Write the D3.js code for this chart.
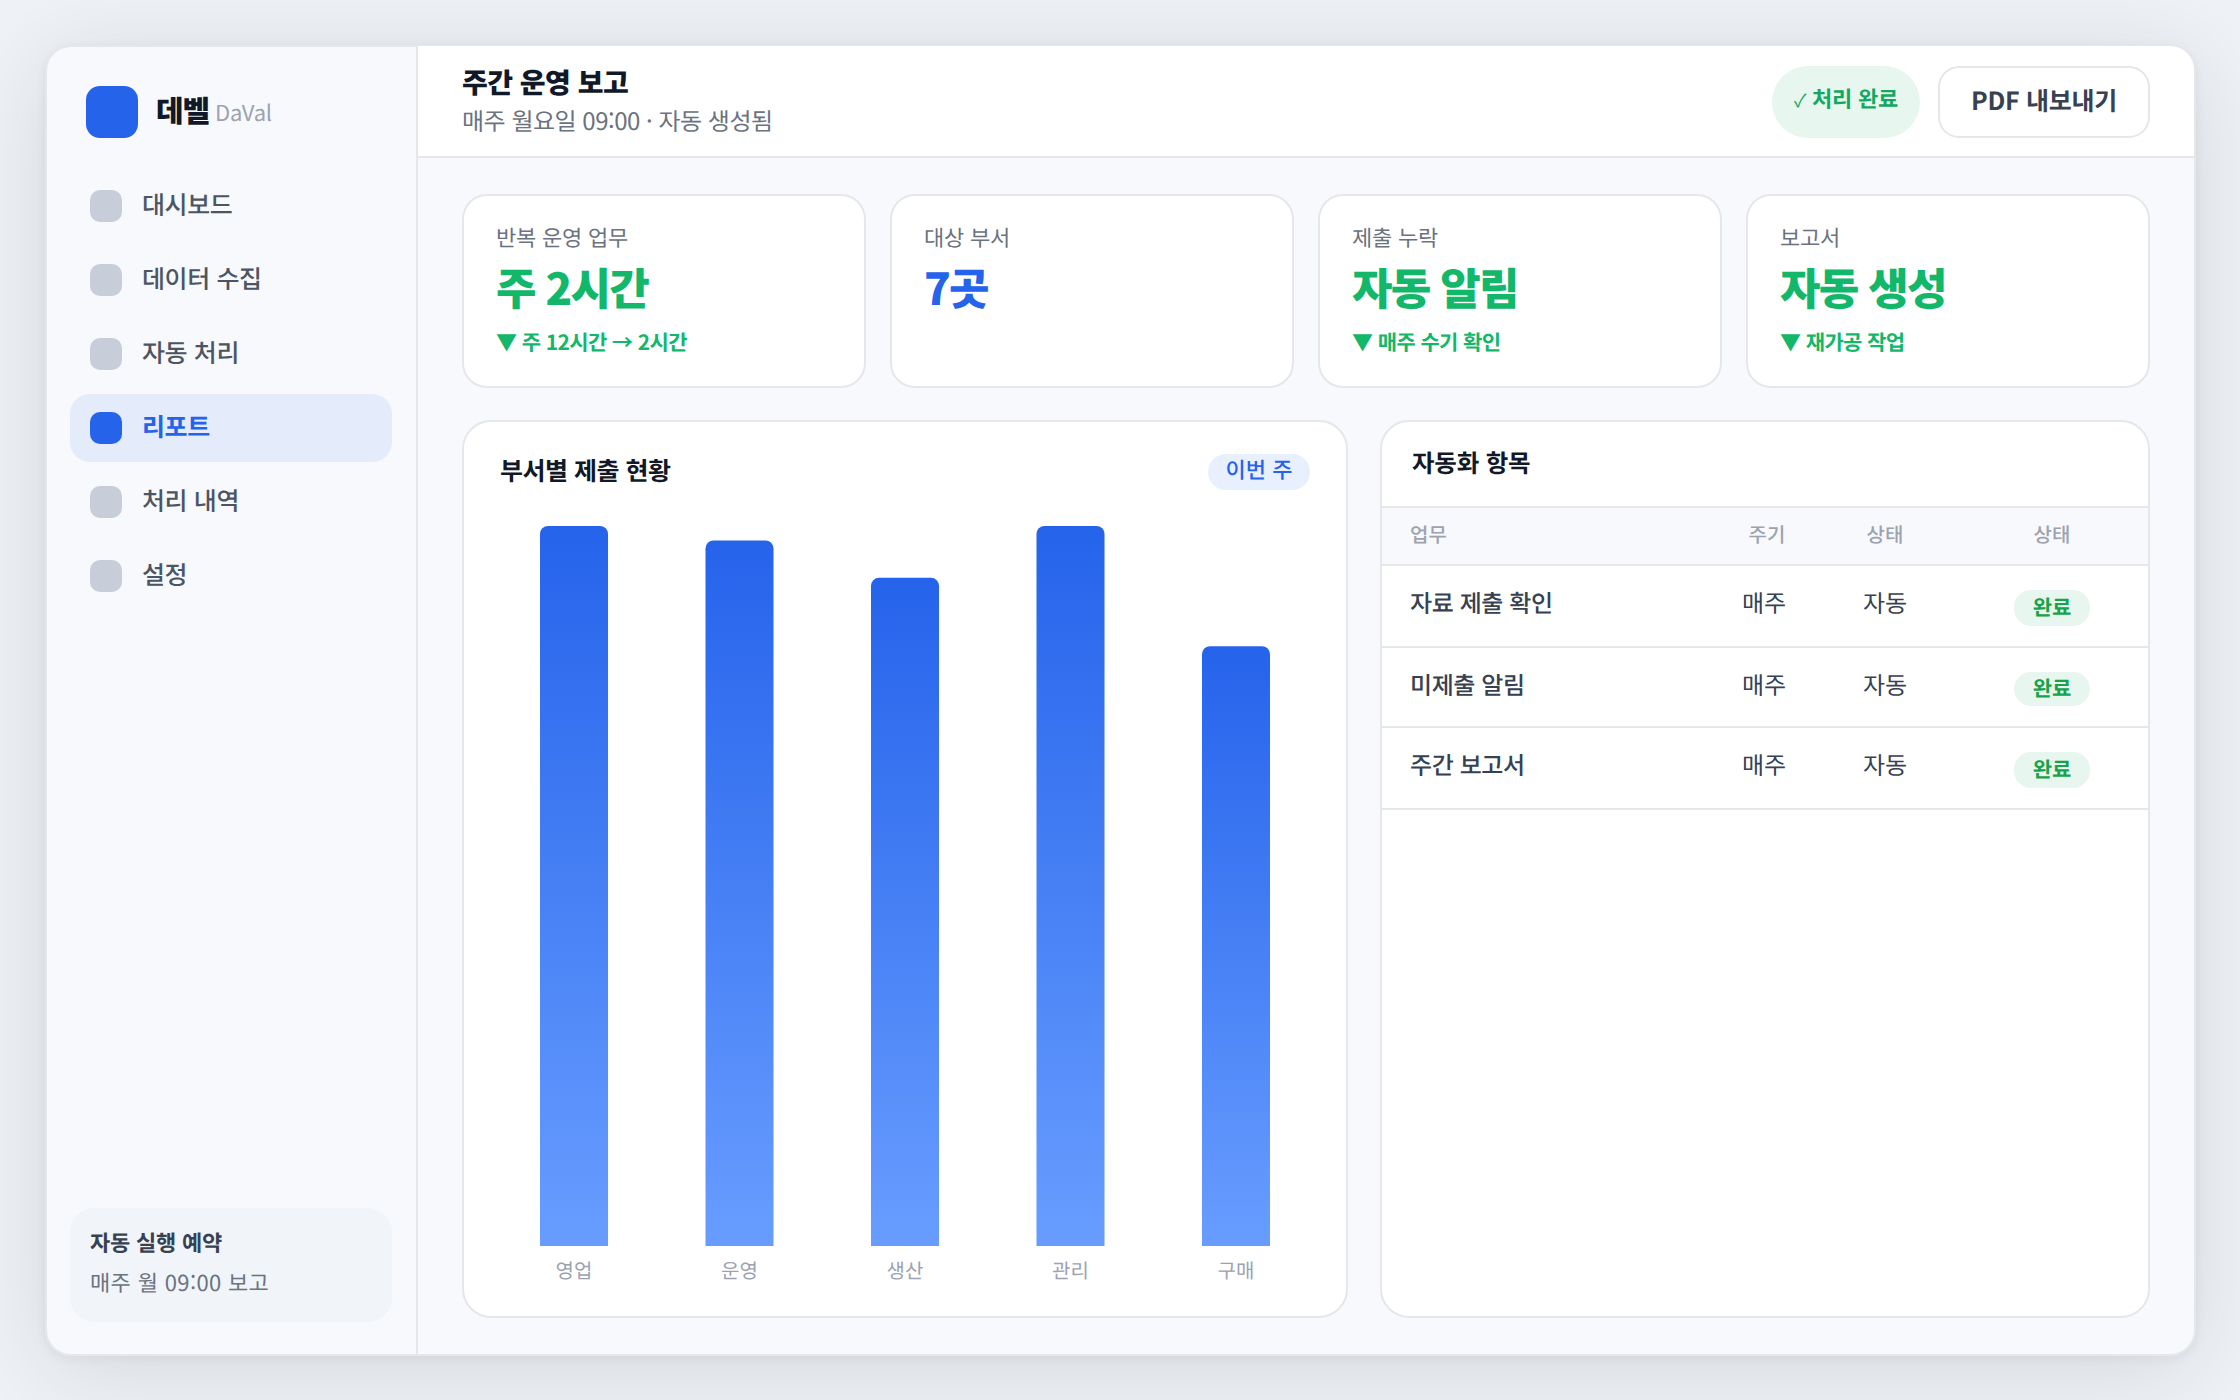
<!DOCTYPE html>
<html lang="ko"><head><meta charset="utf-8">
<script src="https://cdn.jsdelivr.net/npm/d3@7/dist/d3.min.js"></script>
<style>
html,body{margin:0;padding:0;width:2240px;height:1400px;overflow:hidden;background:#eff2f6}
svg{display:block}
text{font-family:"Noto Sans CJK KR","Noto Sans",sans-serif;text-rendering:geometricPrecision}
</style></head><body>
<svg id="c" width="2240" height="1400" viewBox="0 0 2240 1400"></svg>
<script>
const navItems=["대시보드","데이터 수집","자동 처리","리포트","처리 내역","설정"];
const activeNav="리포트";
const kpiLabels=["반복 운영 업무","대상 부서","제출 누락","보고서"];
const kpiValues=["주 2시간","7곳","자동 알림","자동 생성"];
const kpiNotes=["▼ 주 12시간 → 2시간","","▼ 매주 수기 확인","▼ 재가공 작업"];
const kpiColors=["#12b76a","#2563eb","#12b76a","#12b76a"];
const departments=["영업","운영","생산","관리","구매"];
const submissionRates=[100,98,92.8,100,83.3];
const tableColumns=["업무","주기","상태","상태"];
const tableTasks=["자료 제출 확인","미제출 알림","주간 보고서"];
const tableCycles=["매주","매주","매주"];
const tableModes=["자동","자동","자동"];
const tableStatus=["완료","완료","완료"];

const C={ink:"#111827",body:"#374151",nav:"#4b5563",muted:"#6b7280",faint:"#9ca3af",line:"#e5e7eb",blue:"#2563eb",green:"#12b76a",greenDark:"#16a34a",greenBg:"#e7f6ee"};
const svg=d3.select("#c");
const defs=svg.append("defs");
const grad=defs.append("linearGradient").attr("id","barGrad").attr("x1",0).attr("y1",0).attr("x2",0).attr("y2",1);
grad.append("stop").attr("offset","0%").attr("stop-color","#2563eb");
grad.append("stop").attr("offset","100%").attr("stop-color","#689dff");

function box(g,x,y,w,h,r,fill,stroke){
  const sw=stroke?2:0, o=sw/2;
  return g.append("rect").attr("x",x+o).attr("y",y+o).attr("width",w-sw).attr("height",h-sw)
    .attr("rx",r).attr("fill",fill).attr("stroke",stroke||"none").attr("stroke-width",sw);
}
function txt(g,x,y,s,size,weight,fill,anchor,ls){
  return g.append("text").attr("x",x).attr("y",y).text(s).attr("font-size",size).attr("font-weight",weight)
    .attr("fill",fill).attr("text-anchor",anchor||"start").attr("letter-spacing",ls||0);
}
function hline(g,x1,x2,y){g.append("rect").attr("x",x1).attr("y",y).attr("width",x2-x1).attr("height",2).attr("fill",C.line);}

// window shell
const shell=svg.append("g");
box(shell,45,45,2151,1311,25,"#f8f9fd",C.line).style("filter","drop-shadow(0 2px 5px rgba(15,23,42,.06)) drop-shadow(0 14px 48px rgba(15,23,42,.12))");
shell.append("rect").attr("x",416).attr("y",47).attr("width",2).attr("height",1307).attr("fill",C.line);
// header
shell.append("path").attr("d","M418 46H2170a24 24 0 0 1 24 24V156H418Z").attr("fill","#fff");
hline(shell,418,2194,156);

// sidebar
const side=svg.append("g");
box(side,86,86,52,52,14,C.blue);
txt(side,156,122,"데벨",30,800,C.ink,"start",-1.2);
txt(side,215,121,"DaVal",22,400,C.faint,"start",-.2);
const navY=d3.scaleLinear().domain([0,1]).range([206,280]);
navItems.forEach((n,i)=>{
  const cy=navY(i), on=n===activeNav;
  if(on) box(side,70,cy-34,322,68,20,"#e4ebfa");
  box(side,90,cy-16,32,32,10,on?C.blue:"#c7ced9");
  txt(side,142,cy+8,n,25,on?600:500,on?C.blue:C.nav,"start",-.4);
});
box(side,70,1208,322,114,24,"#f1f4f9");
txt(side,90,1251,"자동 실행 예약",22,700,C.body,"start",-.2);
txt(side,90,1291,"매주 월 09:00 보고",22,400,C.muted,"start",.35);

// header contents
const head=svg.append("g");
txt(head,462,93,"주간 운영 보고",28,800,C.ink,"start",-.5);
txt(head,462,130,"매주 월요일 09:00 · 자동 생성됨",24,400,C.muted,"start",-.5);
box(head,1772,66,148,72,36,C.greenBg);
txt(head,1794,107,"✓",18,400,"#12a860");
txt(head,1812,107,"처리 완료",22,700,"#12a860","start",-.2);
box(head,1938,66,212,72,20,"#fff",C.line);
txt(head,2044,110,"PDF 내보내기",25,600,C.body,"middle",-.3);

// KPI cards
const kpiX=d3.scaleLinear().domain([0,1]).range([462,890]);
kpiLabels.forEach((l,i)=>{
  const g=svg.append("g").attr("transform",`translate(${kpiX(i)},194)`);
  box(g,0,0,404,194,24,"#fff",C.line);
  txt(g,34,52,l,22,400,C.muted,"start",-.2);
  txt(g,34,111,kpiValues[i],44,800,kpiColors[i],"start",-1.7);
  if(kpiNotes[i]) txt(g,34,156,kpiNotes[i],21,600,kpiColors[i],"start",-.6);
});

// chart panel
const panel=svg.append("g");
box(panel,462,420,886,898,28,"#fff",C.line);
txt(panel,500,480,"부서별 제출 현황",25,700,C.ink,"start",-.5);
box(panel,1208,454,102,36,18,"#e9f0fd");
txt(panel,1259,478,"이번 주",22,500,C.blue,"middle");

const x=d3.scaleBand().domain(departments).range([540,1270]).paddingInner(.589).paddingOuter(0);
const y=d3.scaleLinear().domain([0,100]).range([1246,526]);
function topRounded(px,py,w,h,r){
  const p=d3.path();
  p.moveTo(px,py+h);p.lineTo(px,py+r);p.arcTo(px,py,px+r,py,r);p.lineTo(px+w-r,py);p.arcTo(px+w,py,px+w,py+r,r);p.lineTo(px+w,py+h);p.closePath();
  return p.toString();
}
panel.append("g").selectAll("path").data(departments).join("path")
  .attr("d",(d,i)=>topRounded(x(d),y(submissionRates[i]),x.bandwidth(),y(0)-y(submissionRates[i]),8))
  .attr("fill","url(#barGrad)");
const axis=panel.append("g").attr("transform","translate(0,1246)").call(d3.axisBottom(x).tickSize(0).tickPadding(12));
axis.select(".domain").remove();
axis.selectAll("text").attr("font-size",20).attr("fill",C.faint).attr("font-family",null).attr("dy",null).attr("y",32);

// table panel
const tbl=svg.append("g");
box(tbl,1380,420,770,898,28,"#fff",C.line);
txt(tbl,1412,472,"자동화 항목",24.5,700,C.ink,"start",-.2);
tbl.append("rect").attr("x",1382).attr("y",508).attr("width",766).attr("height",57).attr("fill","#f8f9fc");
[506,564,646,726,808].forEach(v=>hline(tbl,1382,2148,v));
const colX=[1410,1767,1885,2052], colA=["start","middle","middle","middle"];
tableColumns.forEach((c,i)=>txt(tbl,colX[i],542,c,20,500,C.faint,colA[i]));
const rowText=[612,694,774], pillY=[590,672,752], pillH=[36,34,36];
tableTasks.forEach((t,i)=>{
  txt(tbl,1410,rowText[i],t,24,500,C.body,"start",-.4);
  txt(tbl,1764,rowText[i],tableCycles[i],24,400,C.body,"middle");
  txt(tbl,1885,rowText[i],tableModes[i],24,400,C.body,"middle");
  box(tbl,2014,pillY[i],76,pillH[i],17,C.greenBg);
  txt(tbl,2052,pillY[i]+pillH[i]/2+6.5,tableStatus[i],21,600,C.greenDark,"middle");
});
</script></body></html>
